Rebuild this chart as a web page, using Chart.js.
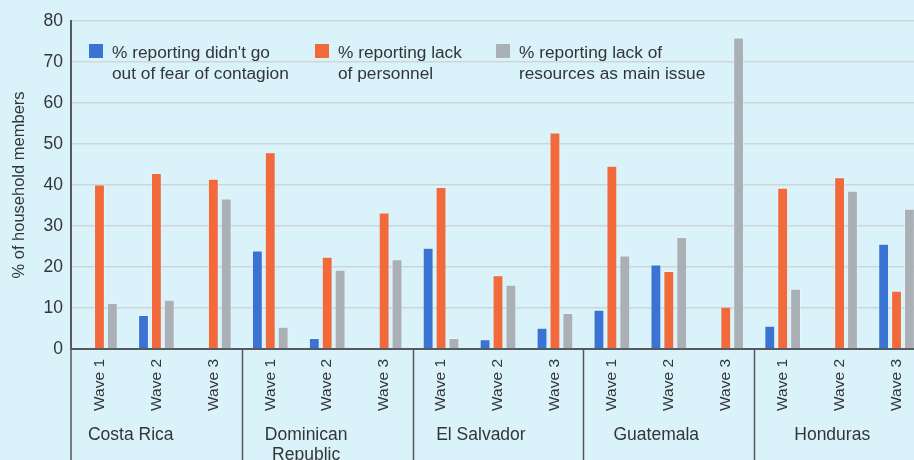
<!DOCTYPE html>
<html>
<head>
<meta charset="utf-8">
<script src="https://cdn.jsdelivr.net/npm/chart.js@4.4.0/dist/chart.umd.min.js"></script>
<style>
    html, body { margin: 0; padding: 0; overflow: hidden; background: #daf3fa; }
    #wrap { position: relative; width: 925px; height: 460px; }
</style>
</head>
<body>
<div id="wrap"><canvas id="chart" width="925" height="460"></canvas></div>
<script>
// data
const countries = [['Costa Rica'], ['Dominican', 'Republic'], ['El Salvador'], ['Guatemala'], ['Honduras']];
const waves = ['Wave 1', 'Wave 2', 'Wave 3'];
const fearOfContagion = [null, 8.3, null, 24.0, 2.7, null, 24.7, 2.4, 5.2, 9.6, 20.6, null, 5.7, null, 25.7];
const lackOfPersonnel = [40.1, 42.9, 41.5, 48.0, 22.5, 33.3, 39.5, 18.0, 52.8, 44.7, 19.0, 10.3, 39.3, 41.9, 14.2];
const lackOfResources = [11.2, 12.0, 36.7, 5.4, 19.3, 21.9, 2.7, 15.7, 8.8, 22.8, 27.3, 76.0, 14.7, 38.6, 34.2];
const seriesLabels = [
    ["% reporting didn't go", 'out of fear of contagion'],
    ['% reporting lack', 'of personnel'],
    ['% reporting lack of', 'resources as main issue']
];
const yTicks = [0, 10, 20, 30, 40, 50, 60, 70, 80];

// where the country names sit, in category units
const countryLabelPos = [0.55, 3.63, 6.7, 9.78, 12.87];

const FONT = '"Liberation Sans Narrow", "Liberation Sans", sans-serif';
const TEXT = '#333538';
const AXIS = '#555a5e';
const colors = ['#3b73d4', '#f2693b', '#abafb6'];

const labels = countries.flatMap(() => waves);

const legendPlugin = {
    id: 'sideLegend',
    afterDraw(chart) {
        const ctx = chart.ctx;
        const area = chart.chartArea;
        const offsets = [18, 244, 425];
        ctx.save();
        ctx.font = '17.3px ' + FONT;
        ctx.textBaseline = 'middle';
        ctx.textAlign = 'left';
        chart.data.datasets.forEach((ds, i) => {
            const x = area.left + offsets[i];
            const y = area.top + 23;
            ctx.fillStyle = ds.backgroundColor;
            ctx.fillRect(x, y, 14, 14);
            ctx.fillStyle = TEXT;
            seriesLabels[i].forEach((line, j) => {
                ctx.fillText(line, x + 23, y + 9 + j * 21);
            });
        });
        ctx.restore();
    }
};

const groupPlugin = {
    id: 'countryGroups',
    afterDraw(chart) {
        const ctx = chart.ctx;
        const area = chart.chartArea;
        const xs = chart.scales.x;
        const bottom = chart.height;
        ctx.save();
        ctx.strokeStyle = AXIS;
        ctx.lineWidth = 1.5;
        ctx.beginPath();
        ctx.moveTo(area.left, area.bottom);
        ctx.lineTo(area.left, bottom);
        for (let i = 1; i < countries.length; i++) {
            const x = Math.round((xs.getPixelForValue(i * 3 - 1) + xs.getPixelForValue(i * 3)) / 2) + 0.5;
            ctx.moveTo(x, area.bottom);
            ctx.lineTo(x, bottom);
        }
        ctx.stroke();

        ctx.font = '17.5px ' + FONT;
        ctx.fillStyle = TEXT;
        ctx.textAlign = 'center';
        ctx.textBaseline = 'middle';
        countries.forEach((name, i) => {
            const cx = xs.getPixelForValue(countryLabelPos[i]);
            name.forEach((line, j) => {
                ctx.fillText(line, cx, area.bottom + 86 + j * 20);
            });
        });
        ctx.restore();
    }
};

new Chart(document.getElementById('chart'), {
    type: 'bar',
    data: {
        labels: labels,
        datasets: [fearOfContagion, lackOfPersonnel, lackOfResources].map((values, i) => ({
            label: seriesLabels[i].join(' '),
            data: values,
            backgroundColor: colors[i],
            borderColor: 'rgba(255,255,255,0.25)',
            borderWidth: 1,
            borderSkipped: 'bottom',
            categoryPercentage: 0.68,
            barPercentage: 0.84
        }))
    },
    options: {
        responsive: false,
        animation: false,
        devicePixelRatio: 1,
        layout: { padding: { top: 21, left: 0, right: 0, bottom: 0 } },
        plugins: {
            legend: { display: false },
            tooltip: { enabled: false }
        },
        scales: {
            x: {
                grid: { display: false, drawTicks: false },
                border: { display: true, color: AXIS, width: 2 },
                ticks: {
                    color: TEXT,
                    font: { family: FONT, size: 15.5 },
                    minRotation: 90,
                    maxRotation: 90,
                    autoSkip: false,
                    padding: 10
                },
                afterFit(scale) {
                    scale.height = 111;
                    scale.paddingLeft = 0;
                    scale.paddingRight = 0;
                }
            },
            y: {
                min: 0,
                max: 80,
                afterBuildTicks(scale) {
                    scale.ticks = yTicks.map(v => ({ value: v }));
                },
                grid: { color: '#cdd5d8', lineWidth: 1.5, drawTicks: false },
                border: { display: true, color: AXIS, width: 2 },
                ticks: {
                    color: TEXT,
                    font: { family: FONT, size: 17.5 },
                    padding: 8
                },
                title: {
                    display: true,
                    text: '% of household members',
                    color: TEXT,
                    font: { family: FONT, size: 16.5 },
                    padding: { top: 10, bottom: 0 }
                },
                afterFit(scale) {
                    scale.width = 71;
                    scale.paddingTop = 0;
                    scale.paddingBottom = 0;
                }
            }
        }
    },
    plugins: [legendPlugin, groupPlugin]
});
</script>
</body>
</html>
